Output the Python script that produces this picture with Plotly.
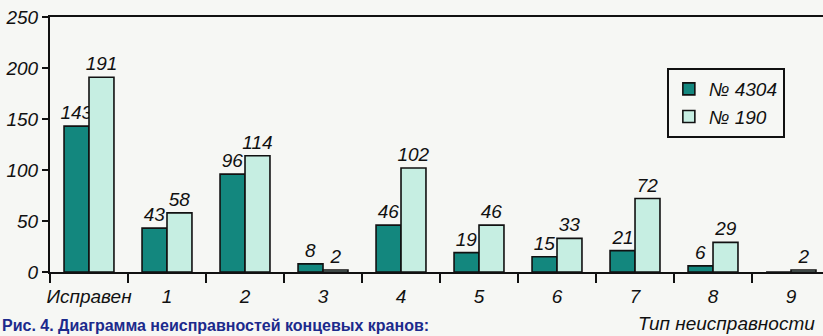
import plotly.graph_objects as go

# Fault types of end cocks (angle cocks) and counts per cock model
categories = ["Исправен", "1", "2", "3", "4", "5", "6", "7", "8", "9"]
cock_4304 = [143, 43, 96, 8, 46, 19, 15, 21, 6, 0]
cock_190 = [191, 58, 114, 2, 102, 46, 33, 72, 29, 2]
y_ticks = [0, 50, 100, 150, 200, 250]

FONT = "Liberation Sans, Arial, sans-serif"
DARK = "#13877e"
LIGHT = "#c6eee2"
BG = "#f6f7f4"


def labels(vals):
    return [str(v) if v else "" for v in vals]


fig = go.Figure()
for name, vals, color in [("№ 4304", cock_4304, DARK), ("№ 190", cock_190, LIGHT)]:
    fig.add_trace(go.Bar(
        name=name,
        x=categories,
        y=vals,
        marker=dict(color=color, line=dict(color="#111111", width=1.6)),
        text=labels(vals),
        textposition="outside",
        constraintext="none",
        textfont=dict(family=FONT, size=19, color="#111111", style="italic"),
        cliponaxis=False,
    ))

fig.update_layout(
    width=823,
    height=336,
    margin=dict(l=50, r=0, t=17, b=64),
    paper_bgcolor=BG,
    plot_bgcolor=BG,
    barmode="group",
    bargap=0.36,
    bargroupgap=0,
    showlegend=True,
    legend=dict(
        x=0.798, y=0.80, xanchor="left", yanchor="top",
        bgcolor=BG, bordercolor="#111111", borderwidth=2,
        font=dict(family=FONT, size=19, color="#111111", style="italic"),
        itemwidth=30, tracegroupgap=2,
    ),
    font=dict(family=FONT, color="#111111"),
)

fig.update_xaxes(
    type="category",
    range=[-0.5, 9.41],
    showline=True, linecolor="#111111", linewidth=2, mirror=True,
    ticks="outside", tickson="boundaries", ticklen=9, tickwidth=2, tickcolor="#111111",
    tickangle=0, ticklabelstandoff=6,
    tickfont=dict(family=FONT, size=19, color="#111111", style="italic"),
    showgrid=False,
)
fig.update_yaxes(
    range=[0, 250],
    tickvals=y_ticks,
    showline=True, linecolor="#111111", linewidth=2,
    ticks="outside", ticklen=6, tickwidth=2, tickcolor="#111111",
    tickfont=dict(family=FONT, size=19, color="#111111", style="italic"),
    showgrid=False, zeroline=False,
)

fig.add_annotation(
    text="Тип неисправности", xref="paper", yref="paper",
    x=1.0, y=0, xanchor="right", yanchor="bottom", yshift=-64, xshift=-6,
    showarrow=False,
    font=dict(family=FONT, size=19, color="#111111", style="italic"),
)
fig.add_annotation(
    text="<b>Рис. 4. Диаграмма неисправностей концевых кранов:</b>",
    xref="paper", yref="paper",
    x=0, y=0, xanchor="left", yanchor="bottom", yshift=-64, xshift=-50,
    showarrow=False,
    font=dict(family="Liberation Sans, Arial, sans-serif", size=16, color="#1c2a8c"),
)

fig.write_html("out.html")
